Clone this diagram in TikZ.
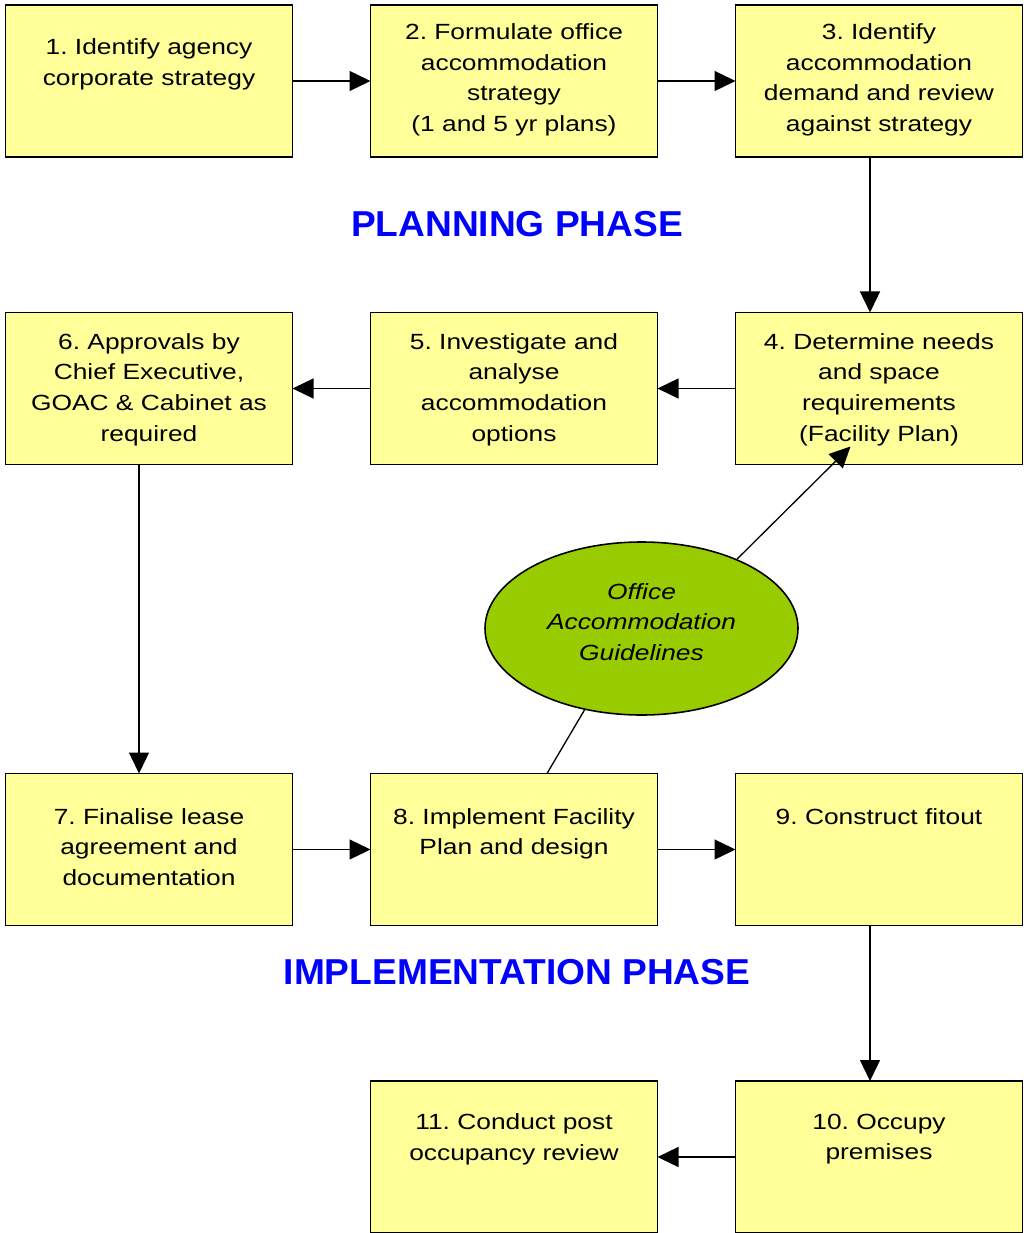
\documentclass[tikz,border=0pt]{standalone}
\usepackage{fontspec}
\setmainfont{Liberation Sans}[FakeStretch=1.2]
\newfontfamily\phasefont{Liberation Sans}[FakeStretch=1.03]
\usetikzlibrary{shapes.geometric}
\usetikzlibrary{positioning}
\usetikzlibrary{arrows.meta}
\definecolor{boxyellow}{HTML}{FFFF99}
\definecolor{guidegreen}{HTML}{99CC00}
\tikzset{
    stage/.style = {rectangle, draw=black, line width=1.1pt, fill=boxyellow, minimum width=5.74cm, minimum height=3.04cm, inner sep=0pt, outer sep=0pt},
    stagetext/.style = {align=center, inner sep=0pt, font=\fontsize{12.5pt}{17.4pt}\selectfont\frenchspacing},
    guide/.style = {ellipse, draw=black, line width=0.9pt, fill=guidegreen, minimum width=6.26cm, minimum height=3.46cm, inner sep=0pt, align=center, font=\fontsize{12.5pt}{17.4pt}\selectfont\itshape},
    phase/.style = {text=blue, inner sep=0pt, font=\phasefont\fontsize{20.5pt}{24pt}\selectfont\bfseries},
    edgen/.style = {-{Triangle[length=0.42cm, width=0.40cm]}, line width=0.75pt},
    edgep/.style = {line width=0.75pt}
}
\begin{document}
\begin{tikzpicture}[node distance=1.56cm]
  \useasboundingbox (0,0) rectangle (20.46,-24.66);

  % planning row
  \node[stage] (b1) at (2.98,-1.62) {};
  \node[stage, right=of b1] (b2) {};
  \node[stage, right=of b2] (b3) {};
  \node[stage, below=3.11cm of b3] (b4) {};
  \node[stage, left=of b4] (b5) {};
  \node[stage, left=of b5] (b6) {};

  % implementation rows
  \node[stage, below=6.18cm of b6] (b7) {};
  \node[stage, right=of b7] (b8) {};
  \node[stage, right=of b8] (b9) {};
  \node[stage, below=3.11cm of b9] (b10) {};
  \node[stage, left=of b10] (b11) {};

  \node[stagetext, below=0.67cm of b1.north] (t1) {1. Identify agency\\corporate strategy};
  \node[stagetext, below=0.37cm of b2.north] (t2) {2. Formulate office\\accommodation\\strategy\\(1 and 5 yr plans)};
  \node[stagetext, below=0.37cm of b3.north] (t3) {3. Identify\\accommodation\\demand and review\\against strategy};
  \node[stagetext, below=0.41cm of b4.north] (t4) {4. Determine needs\\and space\\requirements\\(Facility Plan)};
  \node[stagetext, below=0.41cm of b5.north] (t5) {5. Investigate and\\analyse\\accommodation\\options};
  \node[stagetext, below=0.41cm of b6.north] (t6) {6. Approvals by\\Chief Executive,\\GOAC \& Cabinet as\\required};
  \node[stagetext, below=0.69cm of b7.north] (t7) {7. Finalise lease\\agreement and\\documentation};
  \node[stagetext, below=0.69cm of b8.north] (t8) {8. Implement Facility\\Plan and design};
  \node[stagetext, below=0.69cm of b9.north] (t9) {9. Construct fitout};
  \node[stagetext, below=0.65cm of b10.north] (t10) {10. Occupy\\premises};
  \node[stagetext, below=0.65cm of b11.north] (t11) {11. Conduct post\\occupancy review};

  \node[phase] (plan) at (10.34,-4.48) {PLANNING PHASE};
  \node[phase] (impl) at (10.34,-19.44) {IMPLEMENTATION PHASE};

  \node[guide] (oag) at (12.83,-12.57) {Office\\Accommodation\\Guidelines\rule[-0.26cm]{0pt}{0pt}};
  \coordinate (tip4) at ([shift={(2.3,0.36)}]b4.south west);

  \draw[edgen] (b1) -- (b2);
  \draw[edgen] (b2) -- (b3);
  \draw[edgen] ([xshift=-0.18cm]b3.south) -- ([xshift=-0.18cm]b4.north);
  \draw[edgen] (b4) -- (b5);
  \draw[edgen] (b5) -- (b6);
  \draw[edgen] ([xshift=-0.2cm]b6.south) -- ([xshift=-0.2cm]b7.north);
  \draw[edgen] (b7) -- (b8);
  \draw[edgen] (b8) -- (b9);
  \draw[edgen] ([xshift=-0.18cm]b9.south) -- ([xshift=-0.18cm]b10.north);
  \draw[edgen] (b10) -- (b11);
  \draw[edgen] (oag.36) -- (tip4);
  \draw[edgep] ([xshift=0.66cm]b8.north) -- (oag.235);

\end{tikzpicture}
\end{document}
